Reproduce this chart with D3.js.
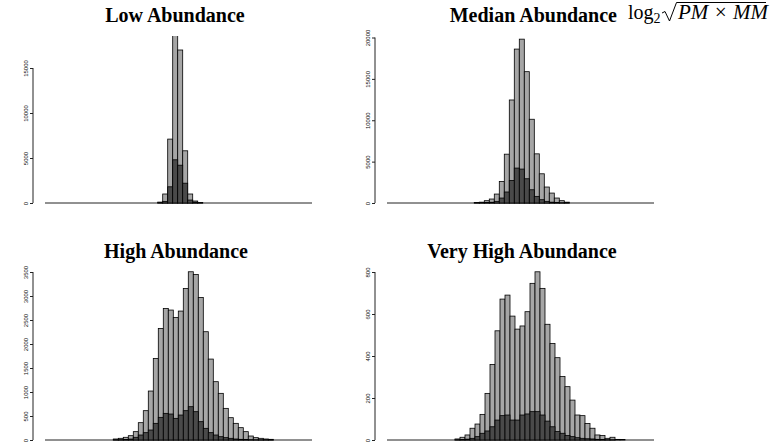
<!DOCTYPE html>
<html>
<head>
<meta charset="utf-8">
<script src="https://cdn.jsdelivr.net/npm/d3@7"></script>
<style>
  body { margin: 0; background: #fff; }
  svg { display: block; }
</style>
</head>
<body>
<div id="chart"></div>
<script>
// histogram counts per bin (total = light bars, subset = dark bars)
const titles = ["Low Abundance", "Median Abundance", "High Abundance", "Very High Abundance"];
const binStarts = [5.635, 4.365, 3.415, 3.4];
const binWidth = 0.25;
const xDomain = [0, 13.35];

const lowTotal = [100, 1000, 7100, 19000, 17000, 5800, 1000, 220, 60];
const lowDark = [30, 180, 1800, 4800, 4200, 2200, 330, 100, 20];

const medianTotal = [50, 100, 280, 480, 1080, 2600, 5900, 12450, 18600, 19800, 15870, 10120, 5940, 3530, 1930, 1200, 600, 280, 100];
const medianDark = [10, 20, 50, 90, 200, 600, 1330, 2730, 4220, 4100, 2930, 1600, 800, 400, 200, 100, 60, 30, 10];

const highTotal = [21, 35, 56, 90, 174, 361, 611, 1020, 1700, 2325, 2741, 2707, 2554, 2686, 3158, 3505,
  3449, 2970, 2256, 1686, 1215, 972, 659, 465, 347, 257, 174, 83, 49, 35, 21, 14];
const highDark = [3, 6, 10, 20, 56, 104, 153, 208, 347, 472, 555, 541, 451, 520, 611, 694,
  590, 382, 243, 153, 104, 69, 49, 35, 21, 14, 10, 6, 4, 3, 2, 1];

const veryHighTotal = [5, 13, 24, 56, 76, 122, 222, 360, 520, 671, 690, 590, 528, 543, 611, 746, 801,
  722, 551, 460, 392, 302, 254, 190, 119, 116, 79, 56, 24, 21, 8, 13, 3, 2];
const veryHighDark = [1, 2, 4, 8, 16, 32, 43, 63, 95, 116, 119, 95, 95, 119, 124, 135, 135,
  119, 90, 63, 40, 32, 21, 16, 11, 8, 6, 5, 3, 2, 1, 1, 0, 0];

const lowTicks = [0, 5000, 10000, 15000];
const medianTicks = [0, 5000, 10000, 15000, 20000];
const highTicks = [0, 500, 1000, 1500, 2000, 2500, 3000, 3500];
const veryHighTicks = [0, 200, 400, 600, 800];

const totals = [lowTotal, medianTotal, highTotal, veryHighTotal];
const darks = [lowDark, medianDark, highDark, veryHighDark];
const ticks = [lowTicks, medianTicks, highTicks, veryHighTicks];

// layout of the four panels
const layout = [
  {ax: 33, x0: 45, x1: 312, base: 203, topY: 68, clipTop: 36, tx: 175, ty: 22, anchor: "middle"},
  {ax: 375, x0: 387, x1: 654, base: 203, topY: 37.5, clipTop: 34, tx: 617, ty: 22, anchor: "end"},
  {ax: 33, x0: 45, x1: 312, base: 440, topY: 272, clipTop: 262, tx: 176, ty: 258, anchor: "middle"},
  {ax: 375, x0: 387, x1: 654, base: 440, topY: 272, clipTop: 262, tx: 522, ty: 258, anchor: "middle"}
];

const width = 780, height = 445;

const svg = d3.select("#chart")
  .append("svg")
  .attr("width", width)
  .attr("height", height);

svg.append("rect").attr("width", width).attr("height", height).attr("fill", "#fff");

layout.forEach((p, i) => {
  const tk = ticks[i];
  const x = d3.scaleLinear().domain(xDomain).range([p.x0, p.x1]);
  const y = d3.scaleLinear().domain([0, tk[tk.length - 1]]).range([p.base, p.topY]);

  const bins = totals[i].map((v, j) => ({
    x0: binStarts[i] + j * binWidth,
    x1: binStarts[i] + (j + 1) * binWidth,
    total: v,
    dark: darks[i][j]
  }));

  const g = svg.append("g");

  svg.append("clipPath")
    .attr("id", "clip" + i)
    .append("rect")
    .attr("x", p.ax).attr("y", p.clipTop)
    .attr("width", p.x1 - p.ax + 15).attr("height", p.base - p.clipTop + 2);

  // baseline made of the empty bins
  g.append("line")
    .attr("x1", p.x0).attr("x2", p.x1)
    .attr("y1", p.base).attr("y2", p.base)
    .attr("stroke", "#222")
    .attr("stroke-width", 1);

  const bars = g.append("g").attr("clip-path", `url(#clip${i})`);

  bars.selectAll("rect.total")
    .data(bins)
    .join("rect")
    .attr("class", "total")
    .attr("x", d => x(d.x0))
    .attr("width", d => x(d.x1) - x(d.x0))
    .attr("y", d => y(d.total))
    .attr("height", d => p.base - y(d.total))
    .attr("fill", "#a6a6a6")
    .attr("stroke", "#000")
    .attr("stroke-width", 0.8);

  bars.selectAll("rect.dark")
    .data(bins)
    .join("rect")
    .attr("class", "dark")
    .attr("x", d => x(d.x0))
    .attr("width", d => x(d.x1) - x(d.x0))
    .attr("y", d => y(d.dark))
    .attr("height", d => p.base - y(d.dark))
    .attr("fill", "#4a4a4a")
    .attr("stroke", "#000")
    .attr("stroke-width", 0.8);

  // y axis, R style: rotated labels
  const axis = d3.axisLeft(y)
    .tickValues(tk)
    .tickSize(3)
    .tickPadding(2)
    .tickFormat(d3.format("d"));

  const ag = svg.append("g")
    .attr("transform", `translate(${p.ax},0)`)
    .call(axis);
  ag.select(".domain").attr("d", `M0,${y(0)}V${y(tk[tk.length - 1])}`).attr("stroke", "#222");
  ag.selectAll(".tick line").attr("stroke", "#222");
  ag.selectAll(".tick text")
    .attr("font-family", "Liberation Sans, Arial, sans-serif")
    .attr("font-size", 6)
    .attr("fill", "#111")
    .attr("text-anchor", "middle")
    .attr("dy", 0)
    .attr("transform", "rotate(-90)")
    .attr("x", 0)
    .attr("y", -5);

  svg.append("text")
    .attr("x", p.tx)
    .attr("y", p.ty)
    .attr("text-anchor", p.anchor)
    .attr("font-family", "Liberation Serif, Times New Roman, serif")
    .attr("font-weight", "bold")
    .attr("font-size", 20)
    .text(titles[i]);
});

// formula next to the median title: log2 sqrt(PM x MM)
const f = svg.append("text")
  .attr("x", 628)
  .attr("y", 19)
  .attr("font-family", "Liberation Serif, Times New Roman, serif")
  .attr("font-size", 20);
f.append("tspan").text("log");
f.append("tspan").attr("font-size", 14).attr("dy", 4).text("2");

svg.append("path")
  .attr("d", "M662,13 L665,11.5 L669.5,21 L676.5,2.5 L766,2.5")
  .attr("fill", "none")
  .attr("stroke", "#000")
  .attr("stroke-width", 1);

svg.append("text")
  .attr("x", 678)
  .attr("y", 19)
  .attr("font-family", "Liberation Serif, Times New Roman, serif")
  .attr("font-style", "italic")
  .attr("font-size", 21)
  .text("PM \u00D7 MM");
</script>
</body>
</html>
